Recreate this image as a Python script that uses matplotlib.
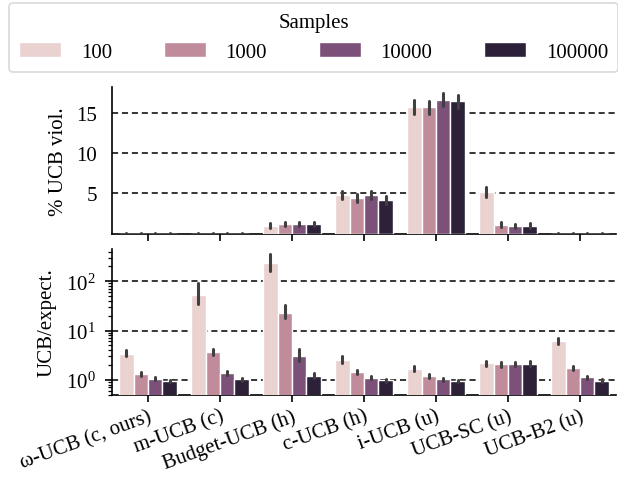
import numpy as np
import matplotlib
matplotlib.use("Agg")
import matplotlib.pyplot as plt
from matplotlib.patches import Patch

plt.rcParams['font.family'] = ['Liberation Serif', 'DejaVu Serif']
plt.rcParams['mathtext.fontset'] = 'stix'

categories = ["ω-UCB (c, ours)", "m-UCB (c)", "Budget-UCB (h)", "c-UCB (h)",
              "i-UCB (u)", "UCB-SC (u)", "UCB-B2 (u)"]
samples = ["100", "1000", "10000", "100000"]
colors = ["#e9d2cf", "#c08c9c", "#7b5079", "#2d2139"]

# % UCB violations, rows = samples, cols = categories
viol = np.array([
    [0.0, 0.0, 1.0, 4.8, 15.7, 5.2, 0.0],
    [0.0, 0.0, 1.2, 4.4, 15.7, 1.1, 0.0],
    [0.0, 0.0, 1.2, 4.8, 16.6, 0.95, 0.0],
    [0.0, 0.0, 1.2, 4.2, 16.4, 1.0, 0.0],
])
viol_lo = np.array([
    [0.0, 0.0, 0.7, 4.3, 14.9, 4.6, 0.0],
    [0.0, 0.0, 0.9, 3.9, 14.9, 0.8, 0.0],
    [0.0, 0.0, 0.9, 4.3, 15.8, 0.65, 0.0],
    [0.0, 0.0, 0.9, 3.7, 15.6, 0.7, 0.0],
])
viol_hi = np.array([
    [0.1, 0.1, 1.3, 5.3, 16.6, 5.8, 0.1],
    [0.1, 0.1, 1.5, 4.9, 16.5, 1.4, 0.1],
    [0.1, 0.1, 1.5, 5.3, 17.4, 1.25, 0.1],
    [0.1, 0.1, 1.5, 4.7, 17.2, 1.3, 0.1],
])

# UCB / expectation ratio
ratio = np.array([
    [3.35, 52.0, 239.0, 2.54, 1.67, 2.17, 6.05],
    [1.32, 3.63, 22.5, 1.43, 1.20, 2.07, 1.77],
    [1.05, 1.36, 3.0, 1.10, 1.03, 2.07, 1.13],
    [0.95, 1.03, 1.19, 0.98, 0.95, 2.13, 0.97],
])
ratio_lo = np.array([
    [3.0, 34.0, 162.0, 2.2, 1.5, 1.95, 5.4],
    [1.22, 3.2, 17.6, 1.3, 1.1, 1.85, 1.62],
    [0.98, 1.24, 2.45, 1.02, 0.97, 1.87, 1.05],
    [0.90, 0.96, 1.07, 0.92, 0.90, 1.9, 0.91],
])
ratio_hi = np.array([
    [4.1, 91.0, 350.0, 3.0, 1.9, 2.45, 6.9],
    [1.45, 4.2, 33.0, 1.6, 1.32, 2.35, 1.95],
    [1.13, 1.5, 4.2, 1.2, 1.10, 2.35, 1.22],
    [1.01, 1.10, 1.35, 1.05, 1.01, 2.4, 1.03],
])

FS = 15

fig = plt.figure(figsize=(6.18, 4.85), dpi=100)
ax1 = fig.add_axes([112/618, 1 - 234.6/485, 504/618, (234.6-88)/485])
ax2 = fig.add_axes([112/618, 1 - 395.7/485, 504/618, (395.7-250)/485])

x = np.arange(len(categories))
bw = 0.2
offsets = (np.arange(4) - 1.5) * bw

def draw(ax, vals, lo, hi):
    for i in range(4):
        pos = x + offsets[i]
        ax.bar(pos, vals[i], width=bw, color=colors[i], edgecolor='white',
               linewidth=1.0, zorder=3)
        ax.vlines(pos, lo[i], hi[i], color='#404040', linewidth=2.2,
                  zorder=4, capstyle='round')
    ax.set_xlim(-0.5, len(categories) - 0.5)
    ax.spines['top'].set_visible(False)
    ax.spines['right'].set_visible(False)
    ax.spines['left'].set_linewidth(1.2)
    ax.spines['bottom'].set_linewidth(1.2)
    ax.set_xticks(x)
    ax.tick_params(axis='x', length=5, width=1.2)
    ax.tick_params(axis='y', labelsize=FS)
    ax.yaxis.grid(True, linestyle=(0, (4, 2.5)), color='black', linewidth=1.1, zorder=0)
    ax.set_axisbelow(True)

draw(ax1, viol, viol_lo, viol_hi)
ax1.set_ylim(0, 18.2)
ax1.set_yticks([5, 10, 15])
ax1.tick_params(axis='y', length=0, pad=11)
ax1.set_xticklabels([])
ax1.set_ylabel("% UCB viol.", fontsize=FS)

draw(ax2, ratio, ratio_lo, ratio_hi)
ax2.set_yscale('log')
ax2.set_ylim(0.5, 450)
ax2.set_yticks([1, 10, 100])
ax2.tick_params(axis='y', which='major', length=5, width=1.2, pad=7)
ax2.tick_params(axis='y', which='minor', length=3, width=0.9)
ax2.set_xticklabels(categories, rotation=20, ha='right', rotation_mode='anchor',
                    fontsize=FS)
ax2.set_ylabel("UCB/expect.", fontsize=FS)
ax1.yaxis.set_label_coords(-0.088, 0.5)
ax2.yaxis.set_label_coords(-0.11, 0.5)

handles = [Patch(facecolor=c, edgecolor='white') for c in colors]
leg = fig.legend(handles, samples, title="Samples", ncol=4, loc='upper center',
                 bbox_to_anchor=(0.5075, 0.997), borderaxespad=0.1,
                 fontsize=FS, title_fontsize=FS,
                 frameon=True, fancybox=True, handlelength=2.0, handleheight=0.7,
                 columnspacing=2.5, handletextpad=0.95, borderpad=0.5)
leg.get_frame().set_edgecolor('#d0d0d0')
leg.get_frame().set_linewidth(1.2)

fig.savefig("out.png", dpi=100)
